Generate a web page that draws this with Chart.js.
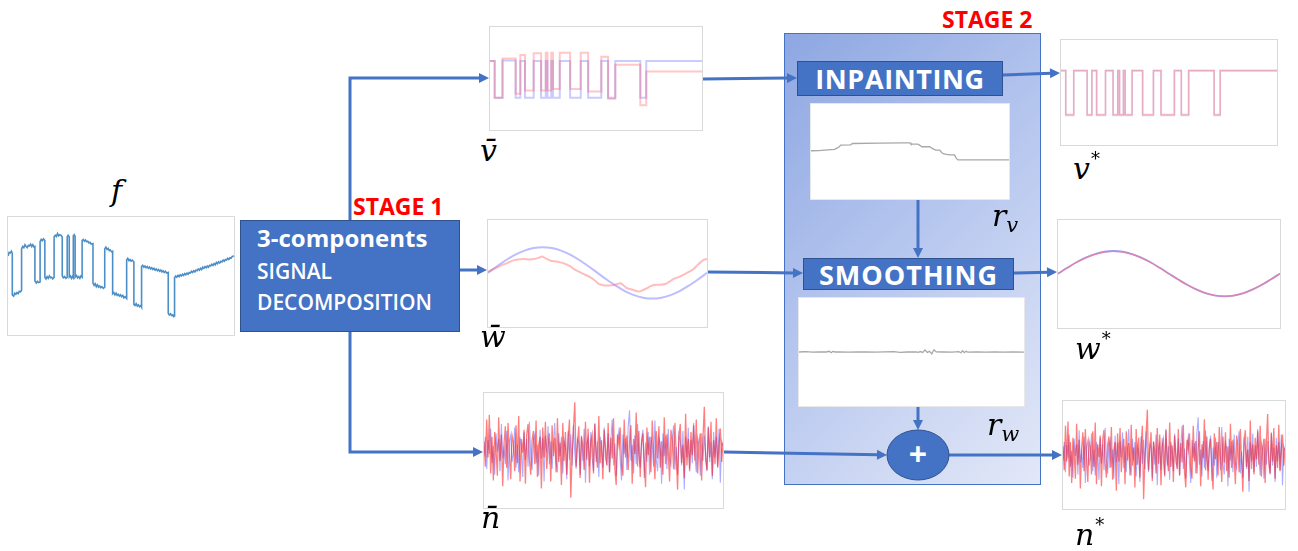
<!DOCTYPE html>
<html><head><meta charset="utf-8">
<script src="https://cdn.jsdelivr.net/npm/chart.js@4.4.1/dist/chart.umd.min.js"></script>
<style>
html,body{margin:0;padding:0;background:#fff;}
#wrap{position:relative;width:1298px;height:551px;overflow:hidden;font-family:"Open Sans",sans-serif;}
.panel{position:absolute;background:#fff;border:1px solid #d9d9d9;box-sizing:border-box;}
.res{position:absolute;background:#fff;border:1px solid #e8e8e8;box-sizing:border-box;}
.math{position:absolute;font-family:"DejaVu Serif",serif;font-style:italic;font-size:30px;line-height:30px;color:#000;white-space:nowrap;}
.math sup{font-size:18px;font-style:normal;position:relative;top:-14px;vertical-align:baseline;margin-left:1px;}
.math sub{font-size:21px;position:relative;top:6px;vertical-align:baseline;}
.txt{position:absolute;white-space:nowrap;line-height:1;}
.bluebox{position:absolute;background:#4472C4;border:1px solid #2F528F;box-sizing:border-box;color:#fff;font-weight:700;display:flex;align-items:center;justify-content:center;}
#stage2{position:absolute;left:784px;top:33px;width:257px;height:452px;box-sizing:border-box;border:1px solid #4472C4;
  background:linear-gradient(135deg,#8ea7e2 0%,#b4c5ee 45%,#d3dcf4 80%,#e2e8f8 100%);}
svg{position:absolute;left:0;top:0;}
</style></head>
<body><div id="wrap">
<div id="stage2"></div>
<svg id="arrows" width="1298" height="551"></svg>

<div class="txt" style="left:942px;top:8px;font-size:23px;font-weight:700;color:#ff0000;">STAGE 2</div>
<div class="txt" style="left:353px;top:195px;font-size:23px;font-weight:700;color:#ff0000;">STAGE 1</div>

<div class="panel" style="left:7px;top:216px;width:228px;height:120px;"><canvas id="cF"></canvas></div>
<div class="bluebox" style="left:240px;top:220px;width:220px;height:112px;"></div>
<div class="txt" style="left:257px;top:226px;font-size:24px;font-weight:700;color:#fff;">3-components</div>
<div class="txt" style="left:257px;top:261px;font-size:21px;font-weight:600;color:#fff;">SIGNAL</div>
<div class="txt" style="left:257px;top:292px;font-size:21px;font-weight:600;color:#fff;">DECOMPOSITION</div>

<div class="panel" style="left:489px;top:26px;width:214px;height:105px;"><canvas id="cVbar"></canvas></div>
<div class="panel" style="left:487px;top:219px;width:221px;height:109px;"><canvas id="cWbar"></canvas></div>
<div class="panel" style="left:483px;top:392px;width:241px;height:117px;"><canvas id="cNbar"></canvas></div>

<div class="bluebox" style="left:797px;top:61px;width:206px;height:35px;font-size:27px;letter-spacing:0.6px;">INPAINTING</div>
<div class="res" style="left:810px;top:103px;width:200px;height:97px;"><canvas id="cRv"></canvas></div>
<div class="bluebox" style="left:803px;top:258px;width:211px;height:32px;font-size:27px;letter-spacing:1px;">SMOOTHING</div>
<div class="res" style="left:798px;top:297px;width:227px;height:110px;"><canvas id="cRw"></canvas></div>

<div class="panel" style="left:1060px;top:39px;width:218px;height:107px;"><canvas id="cVstar"></canvas></div>
<div class="panel" style="left:1057px;top:219px;width:224px;height:110px;"><canvas id="cWstar"></canvas></div>
<div class="panel" style="left:1062px;top:400px;width:224px;height:110px;"><canvas id="cNstar"></canvas></div>

<div class="math" style="left:111px;top:176px;">f</div>
<div class="math" style="left:480px;top:136px;">v̄</div>
<div class="math" style="left:480px;top:322px;">w̄</div>
<div class="math" style="left:481px;top:503px;">n̄</div>
<div class="math" style="left:1073px;top:154px;">v<sup>*</sup></div>
<div class="math" style="left:1075px;top:334px;">w<sup>*</sup></div>
<div class="math" style="left:1075px;top:520px;">n<sup>*</sup></div>
<div class="math" style="left:992px;top:201px;">r<sub>v</sub></div>
<div class="math" style="left:987px;top:410px;">r<sub>w</sub></div>

<script>
// ---------------- DATA ----------------
// f : observed signal, [time 0..100, level 0..100]
const fSignal = [
[0,67],[0.5,70],[1,69.5],[1.5,71],[1.9,69],
[1.9,34],[2.5,33],[3,35.5],[3.5,34.5],[4,36],[4.5,35],[5,37],[5.5,36.5],[6,38],
[6,73],[6.5,75],[7,74],[7.5,76.5],[8,75],[8.5,74],[9,76],[9.5,75.5],[10,77],[10.5,75],[11,76.5],[11.5,74.5],[11.9,75],
[11.9,46],[12.5,44],[13,45.5],[13.5,44.5],[14.2,45],
[14.2,79],[14.7,81],[15.2,80],[15.7,81.5],[16.3,80],
[16.3,49],[16.8,47.5],[17.3,49.5],[17.8,48],[18.3,50],[18.8,48.5],[19.3,49],[19.8,47.5],[20.4,49],
[20.4,83],[20.9,84.5],[21.4,83.5],[21.9,86],[22.4,84],[22.9,85],[23.5,84.5],[24,83],
[24,50],[24.5,48.5],[25,49.5],[25.6,48],[26.2,49],
[26.2,83],[26.6,84.5],[27.1,83],
[27.1,49],[27.6,50],[28.1,48],[28.5,49.5],[28.9,48.5],
[28.9,84],[29.3,85],[29.7,83.5],
[29.7,49],[30.3,50.5],[30.8,48.5],[31.3,49.5],[31.8,48],[32.3,50],[32.8,49],
[32.8,80],[33.3,81],[33.8,79.5],[34.3,80.5],[34.8,79],[35.3,79.5],[35.8,78],[36.3,78.5],[36.8,77],[37.6,77.5],
[37.6,44],[38.1,42],[38.6,43.5],[39.1,41],[39.6,42.5],[40.1,40.5],[40.6,41.5],[41.1,40],[41.6,41],[42.2,39.5],[42.8,40.5],
[42.8,73],[43.3,74.5],[43.8,72.5],[44.3,73.5],[44.8,71.5],[45.3,72],[45.8,70.5],[46.3,71],
[46.3,35],[46.8,36],[47.3,34],[47.8,35.5],[48.3,33.5],[48.8,34.5],[49.3,33],[49.8,34],[50.3,32.5],[50.8,33.5],[51.3,31.5],[51.8,32.5],[52.5,31],
[52.5,63.5],[53,65],[53.5,63],[54,64],[54.5,62.5],[55,63.5],[55.7,62],
[55.7,26],[56.2,25],[56.7,26.5],[57.2,24.5],[57.7,25.5],[58.2,24],[58.7,25],[59.1,23.5],
[59.1,58],[59.6,59],[60.1,57.5],[60.6,58.5],[61.1,57],[61.6,58],[62.1,56.5],[62.6,57.5],[63.1,56],[63.6,57],[64.1,55.5],[64.6,56.5],[65.1,55],[65.6,56],[66.1,54.5],[66.6,55.5],[67.1,54],[67.6,55],[68.1,53.5],[68.6,54.5],[69.1,53],[69.6,54],[70.2,52.5],[70.9,53],
[70.9,18.5],[71.4,17],[71.9,18],[72.4,16.5],[72.9,17],[73.3,15.5],[73.7,16],
[73.7,48.5],[74.2,50],[74.7,49],[75.2,50.5],[75.7,49.5],[76.2,51],[76.7,50],[77.2,51.5],[77.7,50.5],[78.2,52],[78.7,51],[79.2,52.5],[79.7,51.5],[80.2,53],[80.7,52.5],[81.2,54],[81.7,53],[82.2,54.5],[82.7,53.5],[83.2,55],[83.7,54.5],[84.2,56],[84.7,55],[85.2,56.5],[85.7,55.5],[86.2,57.5],[86.7,56.5],[87.2,58],[87.7,57],[88.2,58.5],[88.7,57.5],[89.2,59],[89.7,58.5],[90.2,60],[90.7,59],[91.2,60.5],[91.7,59.5],[92.2,61.5],[92.7,60.5],[93.2,62],[93.7,61],[94.2,62.5],[94.7,62],[95.2,63.5],[95.7,62.5],[96.2,64],[96.7,63.5],[97.2,65],[97.7,64],[98.2,65.5],[98.7,65],[99.2,66.5],[100,67]
];

// piecewise-constant component: switching times and segment levels
const vEdges = [2.2, 5.9, 12.1, 14.3, 16.5, 20.6, 24.1, 26.3, 27.1, 28.9, 29.7, 32.9, 37.8, 42.8, 46.3, 52.5, 55.7, 59.1, 70.9, 73.7];
const vBarBlue  = [67,31.3,67.5,31.3,67,31.3,67,31.3,67,31.3,67,31.3,67,31.3,67,31.3,67,31.3,67,31.3,67];
const vBarRed   = [67.1,31.3,69.3,35.1,72.8,38.3,74.4,38.3,75.1,38.3,75.1,39.9,75.1,39.9,75.1,37.4,71.2,30.4,63.3,24,56.9];
const vStarBlue = [70.8,28.2,70.8,28.2,70.8,28.2,70.8,28.2,70.8,28.2,70.8,28.2,70.8,28.2,70.8,28.2,70.8,28.2,70.8,28.2,70.8];
const vStarRed  = [70.8,28.9,70.8,28.9,70.8,28.9,70.8,28.9,70.8,28.9,70.8,28.9,70.8,28.9,70.8,28.9,70.8,28.9,70.8,28.9,70.8];

// smooth component
const wTime = [0,4.17,8.33,12.5,16.67,20.83,25,29.17,33.33,37.5,41.67,45.83,50,54.17,58.33,62.5,66.67,70.83,75,79.17,83.33,87.5,91.67,95.83,100];
const wBarBlue  = [50.6,56.8,62.6,67.6,71.4,73.8,74.6,73.8,71.4,67.6,62.6,56.8,50.6,44.4,38.6,33.6,29.8,27.4,26.6,27.4,29.8,33.6,38.6,44.4,50.6];
const wStarBlue = [50.3,55.7,60.8,65.1,68.5,70.6,71.3,70.6,68.5,65.1,60.8,55.7,50.3,44.9,39.8,35.5,32.1,30.0,29.3,30.0,32.1,35.5,39.8,44.9,50.3];
const wStarRed  = [50.3,55.5,60.6,64.9,68.2,70.3,71.0,70.4,68.3,64.9,60.6,55.6,50.2,44.9,39.9,35.6,32.3,30.2,29.5,30.1,32.2,35.6,39.9,45.0,50.4];
const wBarRed = [[0,51.7],[3,54.5],[5.8,57.3],[9,60],[11.9,62.5],[14,63.2],[16.4,63.5],[19,63.1],[21,63.5],[23,64.6],[24.8,65.9],[26.5,64],[28.6,61.9],[31,61.2],[33.1,60.4],[35.5,58.8],[37.7,56.7],[39.5,53.8],[41.5,51.7],[44,49.2],[46.8,46.4],[48.8,43.5],[50.6,40.2],[52.5,39.1],[54.4,38.7],[56,38.9],[57.4,39.3],[59,40.2],[60.5,40.9],[62,38.6],[63.5,36.2],[66,34.8],[68.8,33.1],[70.8,34.6],[72.6,36.2],[74,37.9],[75.7,39.3],[78,39.5],[81,40.2],[83,42.6],[84.8,44.9],[87,46.6],[89.4,48.9],[91.5,51.2],[93.9,54.2],[95.5,57.6],[97,60.4],[98.5,62.8],[100,63.5]];

// noise component (deviation), one value per sample
const nRed = [8,-14,27,-6,31,-20,12,-26,16,2,-22,29,-9,14,-31,6,21,-15,24,-4,-25,13,7,-18,22,-11,30,-27,10,-2,18,-29,14,23,-8,-21,9,17,-12,26,-23,5,12,-33,20,-6,25,-16,3,15,-27,22,-5,11,-19,28,-10,7,-30,24,-9,16,-21,10,27,-41,-4,19,42,-14,6,21,-24,12,4,-17,25,-8,19,-28,8,14,-20,23,-3,-15,30,-11,9,-25,18,2,-13,24,-19,11,-7,28,-16,-30,14,5,20,-12,-22,27,-6,13,-17,7,22,-29,10,-3,33,-14,17,-23,6,15,-10,-32,20,-4,12,-19,26,1,-25,17,-7,21,-15,8,-21,29,-12,14,-2,-27,18,9,-16,24,-5,-34,13,23,-11,5,-24,32,-13,10,-18,16,-4,22,-9,27,-20,6,15,-26,11,38,-8,-17,20,-6,25,-22,9,-12,28,-15,4,19,-10,7];
const nBlue = [-5,12,-16,9,-3,19,-11,4,-21,15,-1,10,-18,23,-7,2,-12,17,-26,8,13,-10,-2,20,-15,5,-19,12,3,-23,16,-8,10,-14,25,-4,-17,9,14,-11,5,-22,18,-7,11,-27,13,-2,21,-12,8,-16,6,24,-10,-19,15,-5,12,-20,9,3,-25,17,-8,14,-13,22,-2,-16,10,7,-21,13,-9,19,-28,5,11,-14,16,-6,-18,24,-10,8,-23,12,4,-15,20,-7,-11,15,-19,9,27,-13,6,-22,10,17,-8,-26,14,-3,11,-17,21,35,-9,5,-20,13,-12,23,-5,-15,9,18,-24,7,-10,16,-21,12,4,-14,26,-8,-18,11,6,-29,15,-5,13,-16,19,-7,-12,10,22,-17,3,-21,14,8,-13,17,-34,12,-6,20,-16,9,-11,24,-4,-19,11,5,-22,15,-9,13,-3,-18,21,-10,7,-25,16,-6,12,-14,19,-28,8,4];

// residuals
const rV = [[0,50.8],[4,51],[7,51.5],[12,52.2],[13,53.5],[14,54.5],[15,56.7],[20,57],[21,58.4],[35,58.8],[46,59.1],[50,59.1],[50.5,57.7],[54,57.7],[55,56.5],[56,55],[60,55],[61,53.5],[63,51.5],[65,51.5],[66,49],[67,47.4],[70,46.4],[72.5,46.4],[73.3,43],[74.2,41.2],[100,41.2]];
const rW = [[0,50],[3,50.3],[6,49.8],[9,50.2],[12,50],[13.5,50.7],[14.3,49.4],[15,50.5],[16,50],[18,50.1],[22,49.9],[26,50.2],[30,50],[34,49.8],[38,50.1],[42,50.3],[45,49.7],[48,50],[52,50.2],[53,49.6],[54,50.4],[55,49.5],[56,51.9],[57,49.6],[58,50.6],[59,48.3],[60,52.1],[61,50.1],[64,50],[68,49.9],[71,50.3],[72,49.3],[72.7,51.2],[73.5,49.4],[74.2,50.6],[75,49.9],[79,50.1],[83,49.8],[87,50.2],[91,49.9],[95,50.1],[100,49.8]];

// ---------------- BUILD ----------------
function pairs(arr){ return arr.map(p => ({x:p[0], y:p[1]})); }
function steps(edges, levels){
  const pts = [{x:0, y:levels[0]}];
  edges.forEach((e,i) => pts.push({x:e, y:levels[i+1]}));
  pts.push({x:100, y:levels[levels.length-1]});
  return pts;
}
function series(xs, ys){ return ys.map((y,i) => ({x:xs[i], y})); }
function indexed(ys){ return ys.map((y,i) => ({x:i, y})); }

function mini(id, datasets, xr, yr){
  new Chart(document.getElementById(id), {
    type:'line',
    data:{datasets: datasets.map(d => Object.assign({fill:false, pointRadius:0, tension:0}, d))},
    options:{
      responsive:true, maintainAspectRatio:false, animation:false, events:[],
      layout:{padding:0},
      plugins:{legend:{display:false}, tooltip:{enabled:false}},
      scales:{
        x:{type:'linear', display:false, min:xr[0], max:xr[1]},
        y:{type:'linear', display:false, min:yr[0], max:yr[1]}
      }
    }
  });
}

mini('cF', [{data:pairs(fSignal), borderColor:'rgba(31,114,184,0.8)', borderWidth:1.6}], [0,100], [0,100]);

mini('cVbar', [
  {data:steps(vEdges, vBarRed),  borderColor:'rgba(255,70,70,0.3)', borderWidth:2, stepped:true},
  {data:steps(vEdges, vBarBlue), borderColor:'rgba(70,70,255,0.28)', borderWidth:2, stepped:true}
], [0,100], [0,100]);

mini('cWbar', [
  {data:pairs(wBarRed), borderColor:'rgba(255,90,90,0.4)', borderWidth:2, tension:0.3},
  {data:series(wTime, wBarBlue), borderColor:'rgba(90,90,255,0.4)', borderWidth:2, cubicInterpolationMode:'monotone'}
], [0,100], [0,100]);

const nMax = nRed.length - 1;
mini('cNbar', [
  {data:indexed(nRed),  borderColor:'rgba(255,0,0,0.5)', borderWidth:1.3},
  {data:indexed(nBlue), borderColor:'rgba(40,40,255,0.38)', borderWidth:1.1}
], [0,nMax], [-50,50]);

mini('cRv', [{data:pairs(rV), borderColor:'#a8a8a8', borderWidth:1.3}], [0,100], [0,100]);
mini('cRw', [{data:pairs(rW), borderColor:'#a8a8a8', borderWidth:1.3}], [0,100], [0,100]);

mini('cVstar', [
  {data:steps(vEdges, vStarRed),  borderColor:'rgba(255,120,120,0.45)', borderWidth:1.6, stepped:true},
  {data:steps(vEdges, vStarBlue), borderColor:'rgba(90,90,255,0.25)', borderWidth:1.6, stepped:true}
], [0,100], [0,100]);

mini('cWstar', [
  {data:series(wTime, wStarRed),  borderColor:'rgba(255,120,140,0.7)', borderWidth:1.3, cubicInterpolationMode:'monotone'},
  {data:series(wTime, wStarBlue), borderColor:'rgba(90,90,230,0.6)', borderWidth:1.8, cubicInterpolationMode:'monotone'}
], [0,100], [0,100]);

mini('cNstar', [
  {data:indexed(nRed),  borderColor:'rgba(255,0,0,0.5)', borderWidth:1.3},
  {data:indexed(nBlue), borderColor:'rgba(40,40,255,0.38)', borderWidth:1.1}
], [0,nMax], [-50,50]);

// ---------------- ARROWS / CONNECTORS ----------------
const svg = document.getElementById('arrows');
const NS = 'http://www.w3.org/2000/svg';
const COL = '#4472C4';
function el(tag, attrs){ const e = document.createElementNS(NS, tag); for (const k in attrs) e.setAttribute(k, attrs[k]); svg.appendChild(e); return e; }
function arrow(pts){
  const n = pts.length, [x1,y1] = pts[n-2], [x2,y2] = pts[n-1];
  const L = Math.hypot(x2-x1, y2-y1), ux = (x2-x1)/L, uy = (y2-y1)/L;
  const hl = 10, hw = 5;
  const bx = x2-ux*hl, by = y2-uy*hl;
  const line = pts.slice(0,n-1).concat([[bx+ux*1,by+uy*1]]);
  el('polyline', {points: line.map(p=>p.join(',')).join(' '), fill:'none', stroke:COL, 'stroke-width':3, 'stroke-linejoin':'miter'});
  el('polygon', {points:`${x2},${y2} ${bx-uy*hw},${by+ux*hw} ${bx+uy*hw},${by-ux*hw}`, fill:COL});
}
arrow([[350,220],[350,78],[489,78]]);
arrow([[350,332],[350,452],[483,452]]);
arrow([[460,270],[487,270]]);
arrow([[703,79],[797,78]]);
arrow([[1003,75],[1060,73]]);
arrow([[708,272],[803,273]]);
arrow([[1014,273],[1057,272]]);
arrow([[724,452],[887,455]]);
arrow([[949,455],[1062,455]]);
arrow([[918,200],[918,258]]);
arrow([[918,407],[918,430]]);
el('ellipse', {cx:918, cy:455, rx:31, ry:25, fill:COL, stroke:'#2F528F', 'stroke-width':1});
const plus = el('text', {x:918, y:466, 'text-anchor':'middle', fill:'#fff', 'font-family':'Open Sans, sans-serif', 'font-weight':700, 'font-size':32});
plus.textContent = '+';
</script>
</div></body></html>
